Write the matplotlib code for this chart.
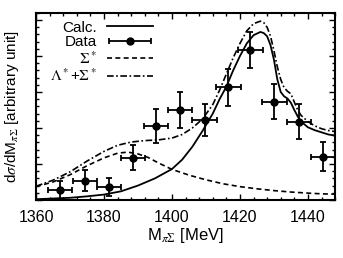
import numpy as np
import matplotlib
matplotlib.use("Agg")
import matplotlib.pyplot as plt
from matplotlib.ticker import MultipleLocator, NullFormatter
from matplotlib.legend_handler import HandlerErrorbar

plt.rcParams['font.family'] = ['Liberation Sans', 'DejaVu Sans']
plt.rcParams['mathtext.fontset'] = 'stix'

# data points (M [MeV], value, y-error)
data_m = [1367.0, 1374.4, 1381.4, 1388.5, 1395.3, 1402.4, 1409.6, 1416.6, 1423.1, 1430.1, 1437.3, 1444.5]
data_y = [0.28, 0.53, 0.35, 1.18, 2.06, 2.50, 2.22, 3.13, 4.17, 2.73, 2.18, 1.20]
data_yerr = [0.24, 0.29, 0.25, 0.35, 0.48, 0.49, 0.45, 0.52, 0.51, 0.49, 0.49, 0.40]
data_xerr = 3.6

# Calc. (solid)
calc_m = [1360, 1365, 1370, 1375, 1380, 1385, 1390, 1395, 1400, 1403, 1406, 1409, 1412, 1414,
          1416, 1418, 1420, 1422, 1424, 1426, 1427, 1428, 1429, 1430, 1431, 1432, 1433, 1434,
          1435, 1436, 1437, 1438, 1440, 1442, 1444, 1446, 1448]
calc_y = [0.02, 0.04, 0.06, 0.10, 0.15, 0.24, 0.40, 0.60, 0.86, 1.12, 1.48, 1.92, 2.40, 2.80,
          3.15, 3.60, 4.00, 4.35, 4.58, 4.67, 4.64, 4.55, 4.30, 3.90, 3.35, 3.00, 2.88, 2.82,
          2.70, 2.50, 2.32, 2.18, 2.02, 1.94, 1.88, 1.82, 1.79]

# Sigma* (dashed)
sig_m = [1360, 1365, 1370, 1375, 1380, 1384, 1387, 1390, 1393, 1396, 1400, 1405, 1410, 1415,
         1420, 1425, 1430, 1435, 1440, 1444, 1448]
sig_y = [0.37, 0.50, 0.70, 0.95, 1.17, 1.30, 1.33, 1.28, 1.18, 1.03, 0.85, 0.69, 0.56, 0.45,
         0.37, 0.31, 0.26, 0.22, 0.19, 0.17, 0.16]

# Lambda* + Sigma* (dash-dot)
tot_m = [1360, 1365, 1370, 1375, 1380, 1384, 1388, 1392, 1396, 1400, 1403, 1406, 1409, 1412,
         1414, 1416, 1418, 1420, 1422, 1424, 1426, 1427, 1428, 1429, 1430, 1431, 1432, 1433,
         1434, 1435, 1436, 1437, 1438, 1440, 1442, 1444, 1446, 1448]
tot_y = [0.38, 0.55, 0.78, 1.08, 1.35, 1.52, 1.61, 1.65, 1.67, 1.72, 1.82, 2.00, 2.25, 2.65,
         3.05, 3.50, 3.95, 4.35, 4.70, 4.90, 4.97, 4.93, 4.80, 4.55, 4.15, 3.70, 3.35, 3.12,
         3.02, 2.95, 2.72, 2.50, 2.35, 2.18, 2.06, 1.98, 1.93, 1.90]

fig = plt.figure(figsize=(3.43, 2.58), dpi=100)
ax = fig.add_axes([0.105, 0.225, 0.872, 0.725])

h_calc, = ax.plot(calc_m, calc_y, color='black', lw=1.3, label='Calc.')
h_data = ax.errorbar(data_m, data_y, xerr=data_xerr, yerr=data_yerr, fmt='o', color='black',
                     ms=5, lw=1.3, capsize=2.5, capthick=1.3, label='Data')
h_sig, = ax.plot(sig_m, sig_y, color='black', lw=1.2, dashes=(3.0, 2.0), label=r'$\Sigma^*$')
h_tot, = ax.plot(tot_m, tot_y, color='black', lw=1.2, dashes=(4.0, 1.5, 1.0, 1.5),
                 label=r'$\Lambda^*$+$\Sigma^*$')

ax.set_xlim(1360, 1448)
ax.set_ylim(0, 5.2)
ax.xaxis.set_major_locator(MultipleLocator(20))
ax.xaxis.set_minor_locator(MultipleLocator(4))
ax.yaxis.set_major_locator(MultipleLocator(1))
ax.yaxis.set_minor_locator(MultipleLocator(0.2))
ax.yaxis.set_major_formatter(NullFormatter())
ax.tick_params(which='both', direction='in', top=True, right=True, labelsize=11.5, width=1.0)
ax.tick_params(which='major', length=4, pad=7)
ax.tick_params(which='minor', length=2)
for s in ax.spines.values():
    s.set_linewidth(1.5)

ax.set_xlabel(r'M$_{\pi\Sigma}$ [MeV]', fontsize=12, labelpad=1)
ax.set_ylabel(r'd$\sigma$/dM$_{\pi\Sigma}$ [arbitrary unit]', fontsize=11, labelpad=4)

ax.legend([h_calc, h_data, h_sig, h_tot],
          ['Calc.', 'Data', r'$\Sigma^*$', r'$\Lambda^*$+$\Sigma^*$'],
          handler_map={type(h_data): HandlerErrorbar(xerr_size=1.35, yerr_size=0)},
          loc='upper left', frameon=False, markerfirst=False, fontsize=11,
          handlelength=3.0, handletextpad=0.7, labelspacing=0.05,
          borderaxespad=0.1, bbox_to_anchor=(0.02, 1.0))

fig.savefig('out.png', dpi=100)
